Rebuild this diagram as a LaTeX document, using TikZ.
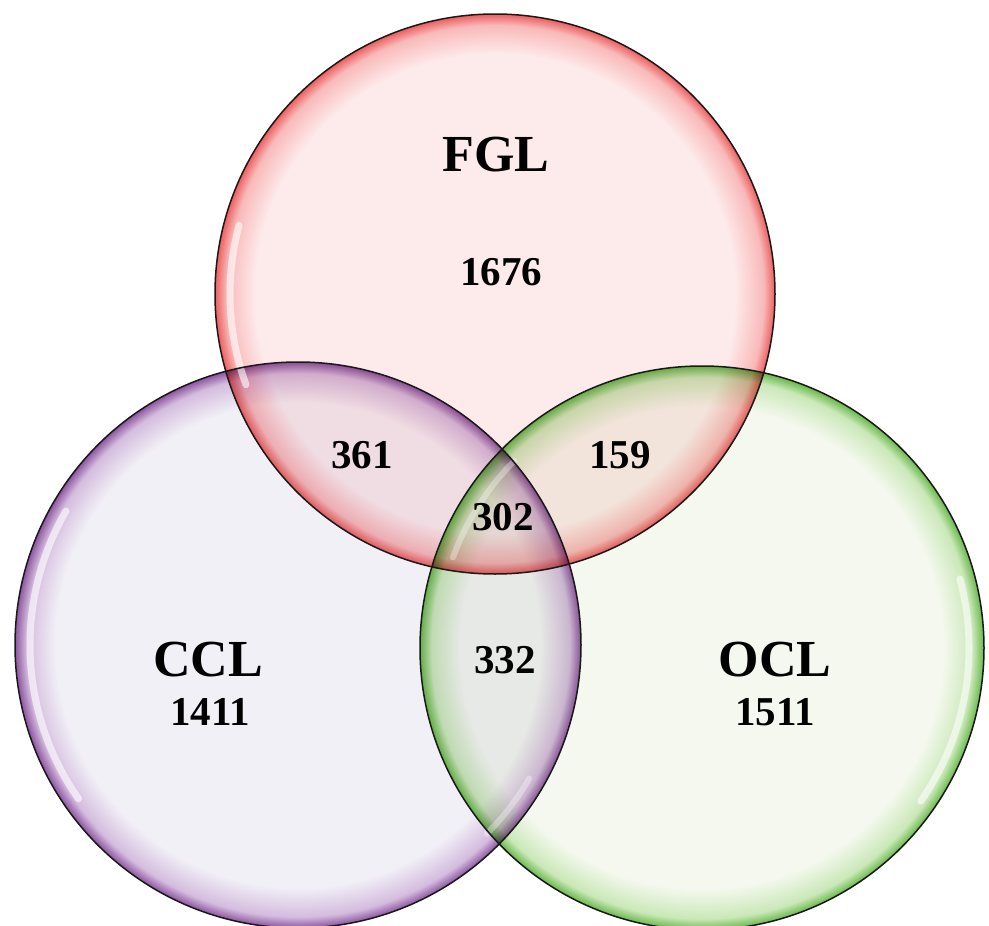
\documentclass[tikz,border=0pt]{standalone}
\usepackage{fontspec}
\setmainfont{Liberation Serif}
\definecolor{fglin}{RGB}{253,235,235}
\definecolor{fglmid}{RGB}{249,185,185}
\definecolor{fgledge}{RGB}{236,95,95}
\definecolor{cclin}{RGB}{242,240,247}
\definecolor{cclmid}{RGB}{212,188,222}
\definecolor{ccledge}{RGB}{140,85,160}
\definecolor{oclin}{RGB}{244,248,238}
\definecolor{oclmid}{RGB}{202,232,184}
\definecolor{ocledge}{RGB}{105,185,75}
\pgfdeclareradialshading{fglsh}{\pgfpoint{0bp}{0bp}}{color(0bp)=(fglin); color(21.4bp)=(fglin); color(24bp)=(fglmid); color(25bp)=(fgledge); color(50bp)=(fgledge)}
\pgfdeclareradialshading{cclsh}{\pgfpoint{0bp}{0bp}}{color(0bp)=(cclin); color(21.4bp)=(cclin); color(24bp)=(cclmid); color(25bp)=(ccledge); color(50bp)=(ccledge)}
\pgfdeclareradialshading{oclsh}{\pgfpoint{0bp}{0bp}}{color(0bp)=(oclin); color(21.4bp)=(oclin); color(24bp)=(oclmid); color(25bp)=(ocledge); color(50bp)=(ocledge)}
\begin{document}
\begin{tikzpicture}[x=1pt,y=-1pt,
  outline/.style={draw=black!90, line width=1.5pt},
  setlabel/.style={font=\fontsize{52}{52}\selectfont\bfseries, inner sep=0pt},
  countlabel/.style={font=\fontsize{41}{41}\selectfont\bfseries, inner sep=0pt},
  gloss/.style={draw=white, line width=7pt, opacity=0.6, line cap=round},
  softgloss/.style={draw=white, line width=6pt, opacity=0.35, line cap=round}]
\useasboundingbox (0,0) rectangle (989,926);
\fill[white] (0,0) rectangle (989,926);
\coordinate (cF) at (495,294);
\coordinate (cC) at (298,645);
\coordinate (cO) at (702,648);
\begin{scope}[blend group=multiply]
  \shade[shading=fglsh] (cF) circle[radius=280pt];
  \shade[shading=cclsh] (cC) circle[radius=283pt];
  \shade[shading=oclsh] (cO) circle[radius=282pt];
\end{scope}
% glossy highlights
\draw[gloss, shift={(cF)}] (165:265pt) arc[start angle=165, end angle=200, radius=265pt];
\draw[gloss, shift={(cC)}] (150:268pt) arc[start angle=150, end angle=215, radius=268pt];
\draw[gloss, shift={(cO)}] (-35:267pt) arc[start angle=-35, end angle=15, radius=267pt];
\draw[softgloss, shift={(cO)}] (135:265pt) arc[start angle=135, end angle=160, radius=265pt];
\draw[softgloss, shift={(cC)}] (-30:267pt) arc[start angle=-30, end angle=-45, radius=267pt];
% outlines
\draw[outline] (cF) circle[radius=280pt];
\draw[outline] (cC) circle[radius=283pt];
\draw[outline] (cO) circle[radius=282pt];
% labels
\node[setlabel] (fgl) at (496,155) {FGL};
\node[countlabel] (nfgl) at (501,272) {1676};
\node[setlabel] (ccl) at (208,660) {CCL};
\node[countlabel] (nccl) at (210,712) {1411};
\node[setlabel] (ocl) at (775,660) {OCL};
\node[countlabel] (nocl) at (775,712) {1511};
\node[countlabel] (nfc) at (362,455) {361};
\node[countlabel] (nfo) at (620,455) {159};
\node[countlabel] (nall) at (503,517) {302};
\node[countlabel] (nco) at (505,660) {332};
\end{tikzpicture}
\end{document}
